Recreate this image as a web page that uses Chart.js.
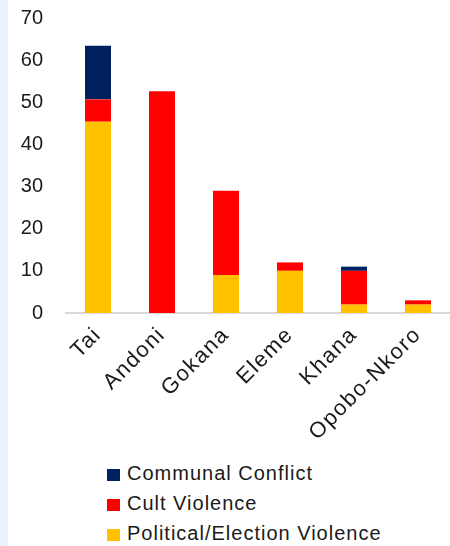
<!DOCTYPE html>
<html>
<head>
<meta charset="utf-8">
<script src="https://cdn.jsdelivr.net/npm/chart.js@4"></script>
<style>
  body { margin: 0; background: #fff; width: 450px; height: 546px; position: relative; overflow: hidden; }
  #strip { position: absolute; left: 0; top: 0; width: 8px; height: 546px; background: #e8f1fc; }
  #myChart { position: absolute; left: 0; top: 0; }
  #legend { position: absolute; left: 107px; top: 458px; font-family: "Liberation Sans", Arial, sans-serif; font-size: 20px; letter-spacing: 1px; color: #1a1a1a; }
  #legend div { height: 30px; line-height: 30px; white-space: nowrap; }
  #legend span.box { display: inline-block; width: 13px; height: 12px; margin-right: 7px; vertical-align: -1px; }
</style>
</head>
<body>
<div id="strip"></div>
<canvas id="myChart" width="450" height="455"></canvas>
<div id="legend"></div>
<script>
var categories = ["Tai", "Andoni", "Gokana", "Eleme", "Khana", "Opobo-Nkoro"];
var political = [45.4, 0, 9, 10, 2, 2];
var cult = [5.3, 52.6, 20, 2, 8, 1];
var communal = [12.7, 0, 0, 0, 1, 0];
var yMax = 70;
var yStep = 10;

var fontFamily = '"Liberation Sans", Arial, sans-serif';

window.onload = function () {
  var ctx = document.getElementById('myChart').getContext('2d');
  var myChart = new Chart(ctx, {
    type: "bar",
    data: {
      labels: categories,
      datasets: [
        { label: "Political/Election Violence", data: political, backgroundColor: "#FFC000" },
        { label: "Cult Violence", data: cult, backgroundColor: "#FF0000" },
        { label: "Communal Conflict", data: communal, backgroundColor: "#002060" }
      ]
    },
    options: {
      responsive: false,
      devicePixelRatio: 1,
      animation: false,
      datasets: { bar: { barPercentage: 0.406, categoryPercentage: 1, borderWidth: 0 } },
      layout: { padding: { left: 21, top: 18, right: 0, bottom: 0 } },
      plugins: { legend: { display: false }, tooltip: { enabled: false } },
      scales: {
        x: {
          stacked: true,
          grid: { display: false, drawTicks: false },
          border: { display: true, color: "#d9d9d9", width: 2 },
          ticks: { color: "#1a1a1a", font: { family: fontFamily, size: 22 }, minRotation: 45, maxRotation: 45, padding: 9 },
          afterFit: function (scale) {
            scale.paddingLeft = 0;
            scale.paddingRight = 0;
            scale.height = 142;
            // the category labels are a little spaced out
            if (!scale._spaced) {
              var drawLabels = scale.drawLabels;
              scale.drawLabels = function (area) {
                this.ctx.save();
                this.ctx.letterSpacing = "1.5px";
                drawLabels.call(this, area);
                this.ctx.restore();
              };
              scale._spaced = true;
            }
          }
        },
        y: {
          stacked: true,
          min: 0,
          max: yMax,
          grid: { display: false, drawTicks: false },
          border: { display: false },
          ticks: { stepSize: yStep, color: "#1a1a1a", font: { family: fontFamily, size: 20 }, padding: 23 },
          afterFit: function (scale) {
            scale.paddingTop = 0;
            scale.paddingBottom = 0;
            scale.width = 45;
          }
        }
      }
    }
  });

  // legend, top to bottom = reverse of stack order
  var legend = document.getElementById('legend');
  myChart.data.datasets.slice().reverse().forEach(function (ds) {
    var row = document.createElement('div');
    var box = document.createElement('span');
    box.className = 'box';
    box.style.background = ds.backgroundColor;
    row.appendChild(box);
    row.appendChild(document.createTextNode(ds.label));
    legend.appendChild(row);
  });
};
</script>
</body>
</html>
